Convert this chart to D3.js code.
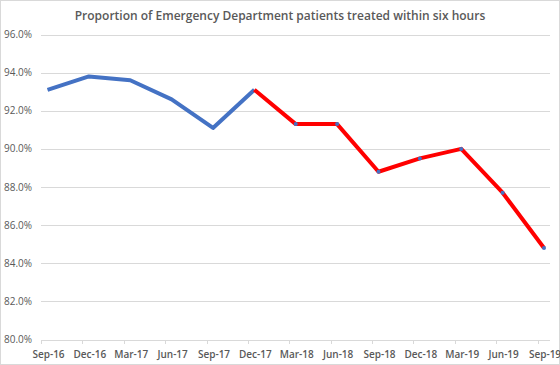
<!DOCTYPE html>
<html>
<head>
<meta charset="utf-8">
<script src="https://cdn.jsdelivr.net/npm/d3@7"></script>
<style>
  body { margin: 0; background: #fff; }
  svg { display: block; font-family: 'Open Sans', 'Liberation Sans', sans-serif; }
</style>
</head>
<body>
<svg id="chart"></svg>
<script>
const quarters = ['Sep-16', 'Dec-16', 'Mar-17', 'Jun-17', 'Sep-17', 'Dec-17', 'Mar-18',
    'Jun-18', 'Sep-18', 'Dec-18', 'Mar-19', 'Jun-19', 'Sep-19'];
const proportion = [93.1, 93.8, 93.6, 92.6, 91.1, 93.1, 91.3, 91.3, 88.8, 89.5, 90.0, 87.7, 84.8];
const earlierQuarters = ['Sep-16', 'Dec-16', 'Mar-17', 'Jun-17', 'Sep-17', 'Dec-17'];
const laterQuarters = ['Dec-17', 'Mar-18', 'Jun-18', 'Sep-18', 'Dec-18', 'Mar-19', 'Jun-19', 'Sep-19'];
const yTicks = [80, 82, 84, 86, 88, 90, 92, 94, 96];

const width = 560, height = 365;
const svg = d3.select('#chart').attr('width', width).attr('height', height);

svg.append('rect')
    .attr('x', 0.5).attr('y', 0.5)
    .attr('width', width - 1).attr('height', height - 1)
    .attr('fill', '#fff')
    .attr('stroke', '#d9d9d9');

const x = d3.scalePoint().domain(quarters).range([47.5, 544]);
const y = d3.scaleLinear().domain([80, 96]).range([339.5, 34.5]);
const left = 41, right = 550;

svg.append('text')
    .attr('x', 280).attr('y', 20)
    .attr('text-anchor', 'middle')
    .attr('fill', '#595959')
    .attr('font-size', 12)
    .attr('font-weight', 600)
    .text('Proportion of Emergency Department patients treated within six hours');

// gridlines
svg.append('g')
    .selectAll('line')
    .data(yTicks)
    .enter()
    .append('line')
    .attr('x1', left).attr('x2', right)
    .attr('y1', (d) => Math.round(y(d)) + 0.5)
    .attr('y2', (d) => Math.round(y(d)) + 0.5)
    .attr('stroke', '#d9d9d9');

svg.append('g')
    .selectAll('text')
    .data(yTicks)
    .enter()
    .append('text')
    .attr('x', 32)
    .attr('y', (d) => y(d))
    .attr('dy', '0.35em')
    .attr('text-anchor', 'end')
    .attr('fill', '#595959')
    .attr('font-size', 10)
    .text((d) => d.toFixed(1) + '%');

// x axis ticks sit a bit left of each category
const tickShift = -6.5;
svg.append('g')
    .selectAll('line')
    .data(quarters)
    .enter()
    .append('line')
    .attr('x1', (d) => Math.round(x(d) + tickShift) + 0.5)
    .attr('x2', (d) => Math.round(x(d) + tickShift) + 0.5)
    .attr('y1', 340).attr('y2', 344)
    .attr('stroke', '#d9d9d9');

svg.append('g')
    .selectAll('text')
    .data(quarters)
    .enter()
    .append('text')
    .attr('x', (d) => x(d) + 1)
    .attr('y', 354)
    .attr('dy', '0.35em')
    .attr('text-anchor', 'middle')
    .attr('fill', '#595959')
    .attr('font-size', 10)
    .attr('font-weight', 600)
    .text((d) => d);

const points = quarters.map((q, i) => ({ q: q, v: proportion[i] }));
const line = d3.line().x((d) => x(d.q)).y((d) => y(d.v));

svg.append('path')
    .datum(points.filter((d) => earlierQuarters.includes(d.q)))
    .attr('fill', 'none')
    .attr('stroke', '#4472c4')
    .attr('stroke-width', 4)
    .attr('stroke-linejoin', 'round')
    .attr('d', line);

svg.append('path')
    .datum(points.filter((d) => laterQuarters.includes(d.q)))
    .attr('fill', 'none')
    .attr('stroke', '#ff0000')
    .attr('stroke-width', 4)
    .attr('stroke-linejoin', 'round')
    .attr('d', line);

svg.append('g')
    .selectAll('circle')
    .data(points.filter((d) => laterQuarters.includes(d.q) && d.q !== 'Dec-17'))
    .enter()
    .append('circle')
    .attr('cx', (d) => x(d.q))
    .attr('cy', (d) => y(d.v))
    .attr('r', 2)
    .attr('fill', '#4472c4');
</script>
</body>
</html>
